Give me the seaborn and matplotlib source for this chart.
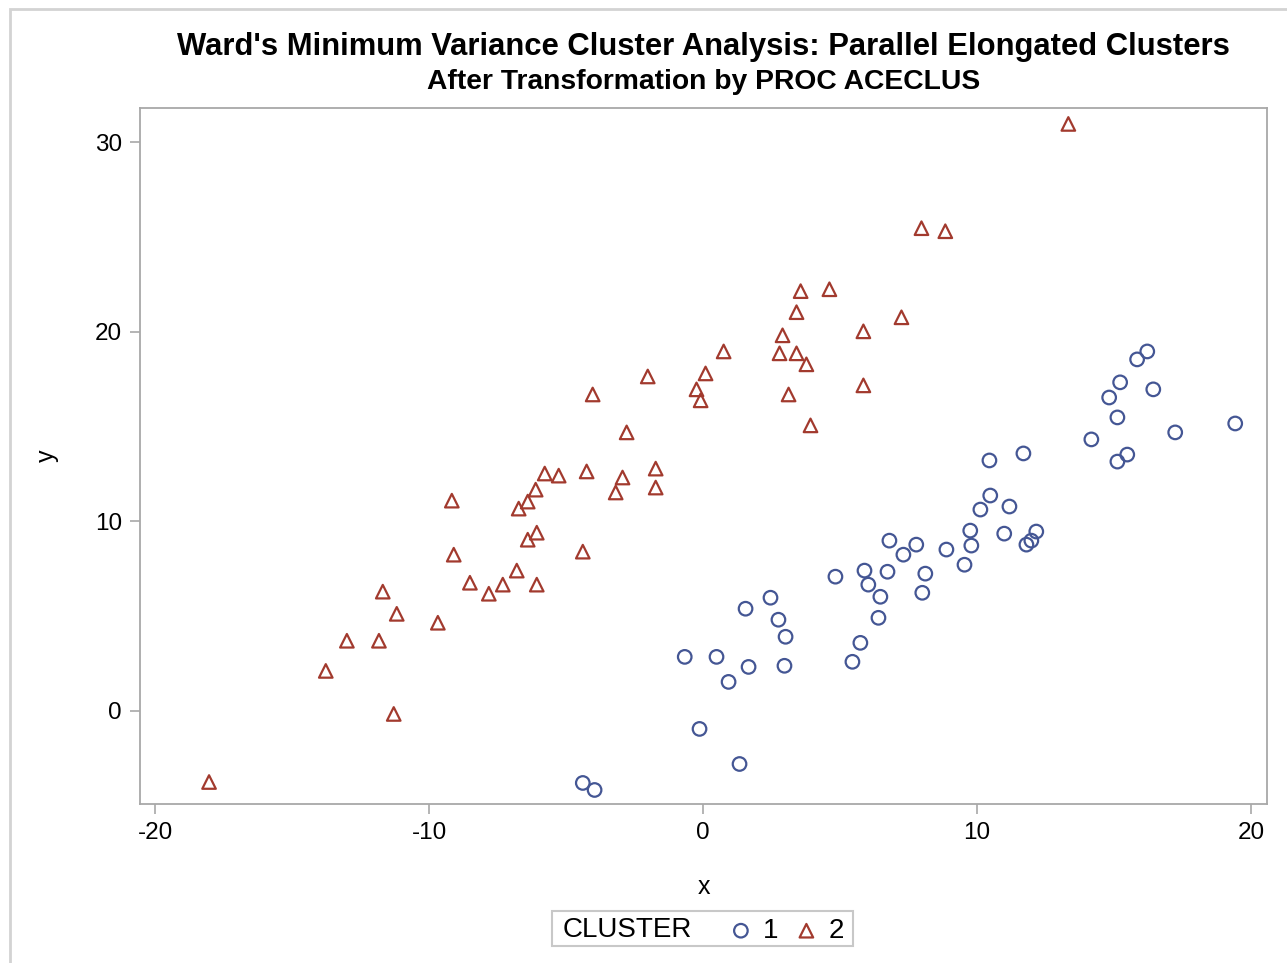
import numpy as np
import pandas as pd
import matplotlib.pyplot as plt
import matplotlib.patches as mpatches
import seaborn as sns

# Cluster 1 (circles)
x1 = [-0.67, 0.49, 1.66, 2.97, 0.93, -0.13, 1.33, 1.55, 2.46, 2.75, 3.01,
      4.83, 5.89, 6.03, 6.73, 6.47, 6.40, 5.74, 5.45, 6.80, 7.31, 7.78,
      8.88, 8.11, 8.00, 9.75, 9.79, 9.54, 10.12, 10.99, 11.18, 10.48, 10.45,
      11.69, 12.16, 11.98, 11.80, 14.17, 15.12, 15.48, 15.12, 14.82, 15.22,
      16.43, 15.84, 16.21, 17.23, 19.42, -4.39, -3.96]
y1 = [2.85, 2.85, 2.32, 2.38, 1.53, -0.95, -2.80, 5.39, 5.97, 4.81, 3.91,
      7.08, 7.40, 6.66, 7.34, 6.02, 4.91, 3.59, 2.59, 8.98, 8.24, 8.77,
      8.51, 7.24, 6.23, 9.51, 8.72, 7.71, 10.62, 9.35, 10.78, 11.36, 13.21,
      13.58, 9.46, 8.98, 8.77, 14.32, 13.15, 13.52, 15.48, 16.53, 17.33,
      16.96, 18.54, 18.96, 14.69, 15.16, -3.80, -4.17]

# Cluster 2 (triangles)
x2 = [13.33, 7.97, 8.84, 4.61, 3.56, 3.41, 7.24, 5.85, 2.90, 0.75, 2.79,
      3.41, 3.77, 0.09, -2.02, -4.03, -0.24, -0.09, 3.12, 5.85, 3.92, -2.79,
      -5.78, -5.27, -4.25, -2.94, -1.73, -6.11, -6.40, -9.17, -3.19, -1.73,
      -6.73, -6.07, -6.40, -9.10, -4.39, -6.80, -8.51, -7.31, -7.82, -6.07,
      -11.69, -11.18, -9.68, -13.00, -11.83, -13.77, -11.29, -18.03]
y2 = [30.96, 25.46, 25.30, 22.24, 22.14, 21.03, 20.76, 20.02, 19.81, 18.96,
      18.86, 18.86, 18.28, 17.80, 17.64, 16.69, 16.96, 16.38, 16.69, 17.17,
      15.06, 14.69, 12.52, 12.41, 12.63, 12.31, 12.78, 11.67, 11.04, 11.09,
      11.52, 11.78, 10.67, 9.40, 9.03, 8.24, 8.40, 7.40, 6.76, 6.66, 6.18,
      6.66, 6.29, 5.12, 4.65, 3.70, 3.70, 2.11, -0.16, -3.75]

clusters = ["1", "2"]
xticks = [-20, -10, 0, 10, 20]
yticks = [0, 10, 20, 30]

blue = "#445694"
red = "#A23A2E"

sns.set_style("white")
plt.rcParams["font.family"] = ["Liberation Sans", "DejaVu Sans"]
plt.rcParams["text.color"] = "black"
plt.rcParams["axes.labelcolor"] = "black"
plt.rcParams["axes.unicode_minus"] = False

fig = plt.figure(figsize=(12.87, 9.63), dpi=100)
ax = fig.add_axes([140 / 1287, 1 - 804 / 963, 1127 / 1287, 696 / 963])

df1 = pd.DataFrame({"x": x1, "y": y1})
df2 = pd.DataFrame({"x": x2, "y": y2})

sns.scatterplot(data=df1, x="x", y="y", marker="o", s=95, color=blue,
                facecolor="none", edgecolor=blue, linewidth=1.6,
                label=clusters[0], ax=ax, legend=False)
sns.scatterplot(data=df2, x="x", y="y", marker="^", s=95, color=red,
                facecolor="none", edgecolor=red, linewidth=1.6,
                label=clusters[1], ax=ax, legend=False)

ax.set_xlim(-20.55, 20.58)
ax.set_ylim(-4.91, 31.80)
ax.set_xticks(xticks)
ax.set_yticks(yticks)
ax.tick_params(axis="both", which="both", direction="out", length=7,
               width=1.2, color="#a8a8a8", labelsize=17.5, labelcolor="black",
               pad=6, bottom=True, left=True)
for sp in ax.spines.values():
    sp.set_color("#a8a8a8")
    sp.set_linewidth(1.3)
ax.set_xlabel("x", fontsize=18, labelpad=22)
ax.set_ylabel("y", fontsize=18, labelpad=26)

# titles
fig.text(703 / 1287, 1 - 47 / 963, "Ward's Minimum Variance Cluster Analysis: Parallel Elongated Clusters",
         ha="center", va="center", fontsize=22.3, fontweight="bold")
fig.text(704 / 1287, 1 - 82 / 963, "After Transformation by PROC ACECLUS",
         ha="center", va="center", fontsize=20.3, fontweight="bold")

# legend: "CLUSTER" label + markers, framed together
h, l = ax.get_legend_handles_labels()
leg = fig.legend(h, l, loc="center left", bbox_to_anchor=(727 / 1287, 1 - 931 / 963),
                 ncol=2, frameon=False, fontsize=20, handletextpad=0.3,
                 columnspacing=0.5, borderpad=0, borderaxespad=0,
                 handlelength=1.0)
fig.text(563 / 1287, 1 - 930 / 963, "CLUSTER", ha="left", va="center", fontsize=20)
fig.add_artist(mpatches.Rectangle((552 / 1287, 1 - 946 / 963), 301 / 1287, 35 / 963,
                                  transform=fig.transFigure, fill=False,
                                  edgecolor="#c8c8c8", linewidth=1.5))

# outer frame
fig.add_artist(mpatches.Rectangle((10 / 1287, -0.02), 1.1, 1 - 9 / 963 + 0.02,
                                  transform=fig.transFigure, fill=False,
                                  edgecolor="#d3d3d3", linewidth=2))

fig.savefig("out.png", dpi=100)
